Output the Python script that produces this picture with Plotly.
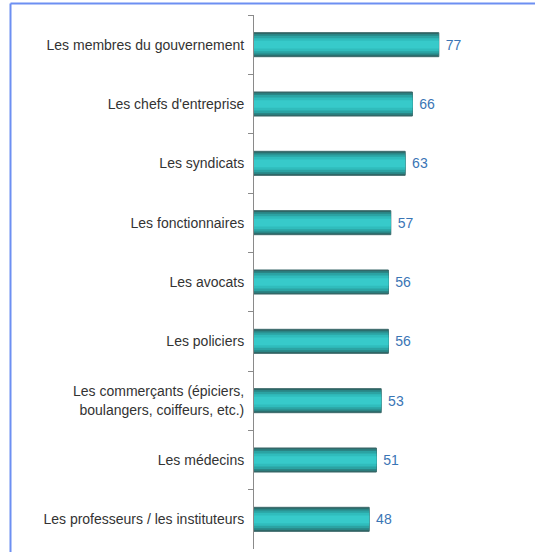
import plotly.graph_objects as go

categories = [
    "Les membres du gouvernement",
    "Les chefs d'entreprise",
    "Les syndicats",
    "Les fonctionnaires",
    "Les avocats",
    "Les policiers",
    "Les commerçants (épiciers,<br>boulangers, coiffeurs, etc.)",
    "Les médecins",
    "Les professeurs / les instituteurs",
]
values = [77, 66, 63, 57, 56, 56, 53, 51, 48]

# cylinder-like shading: outer dark layer to bright core
layers = [
    (0.405, "#2c6767", 0.0),
    (0.36, "#2a8585", -0.01),
    (0.30, "#2ba3a3", -0.02),
    (0.22, "#30bcbc", -0.03),
    (0.13, "#37caca", -0.035),
]

fig = go.Figure()
for i, (w, c, off) in enumerate(layers):
    fig.add_trace(go.Bar(
        x=values,
        y=categories,
        orientation="h",
        width=w,
        marker=dict(color=c, line=dict(color="#3d6a6b", width=1 if i == 0 else 0)),
        text=[f" {v}" for v in values] if i == 0 else None,
        textposition="outside" if i == 0 else "none",
        textfont=dict(family="Liberation Sans, Arial", size=14, color="#3a75b5"),
        cliponaxis=False,
        hoverinfo="skip",
        showlegend=False,
    ))

fig.update_layout(
    barmode="overlay",
    width=535,
    height=552,
    margin=dict(l=254, r=41, t=15, b=3),
    paper_bgcolor="white",
    plot_bgcolor="white",
    xaxis=dict(range=[0, 100], visible=False, showgrid=False, zeroline=False),
    yaxis=dict(
        autorange="reversed",
        showline=True,
        linecolor="#8a8a8a",
        linewidth=1,
        ticks="outside",
        tickson="boundaries",
        ticklen=5,
        tickcolor="#8a8a8a",
        showgrid=False,
        tickfont=dict(family="Liberation Sans, Arial", size=14, color="#333333"),
        ticklabelstandoff=6,
    ),
    shapes=[
        dict(type="line", xref="paper", yref="paper",
             x0=(10.5 - 254) / 240, x1=(540 - 254) / 240,
             y0=1 + (15 - 3.5) / 534, y1=1 + (15 - 3.5) / 534,
             line=dict(color="#6d8ff2", width=2)),
        dict(type="line", xref="paper", yref="paper",
             x0=(10.5 - 254) / 240, x1=(10.5 - 254) / 240,
             y0=1 + (15 - 3.5) / 534, y1=-0.05,
             line=dict(color="#6d8ff2", width=2)),
    ],
)

fig.write_html("out.html")
